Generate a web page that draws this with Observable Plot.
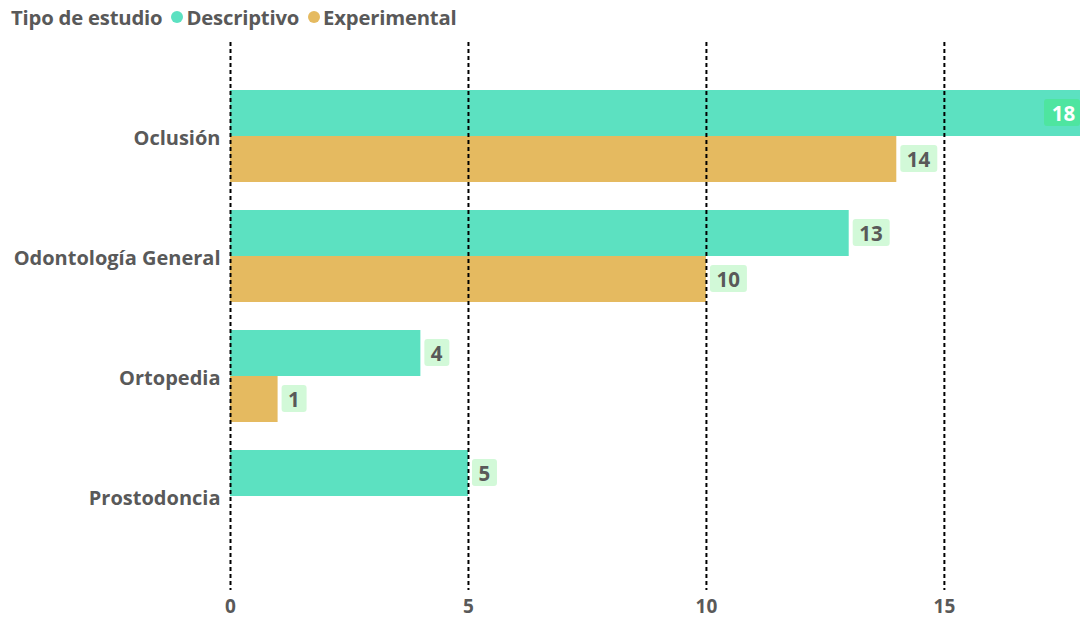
<!DOCTYPE html>
<html>
<head>
<meta charset="utf-8">
<script src="https://cdn.jsdelivr.net/npm/d3@7"></script>
<script src="https://cdn.jsdelivr.net/npm/@observablehq/plot@0.6"></script>
<style>
  html, body { margin: 0; padding: 0; background: #fff; overflow: hidden; }
  #legend { height: 34px; display: flex; align-items: center; padding-left: 11px;
    font-family: "Open Sans", sans-serif; font-weight: 700; font-size: 20.3px; color: #595959; letter-spacing: -0.2px; }
  #legend .sw { display: inline-block; width: 12px; height: 12px; border-radius: 50%; margin: 0 3px 0 9px; }
</style>
</head>
<body>
<div id="legend"></div>
<div id="chart"></div>
<script>
const legendTitle = "Tipo de estudio";
const categories = ["Oclusión", "Odontología General", "Ortopedia", "Prostodoncia"];
const seriesNames = ["Descriptivo", "Experimental"];
const seriesColors = ["#5CE1C1", "#E5BA60"];
const descriptivo = [18, 13, 4, 5];
const experimental = [14, 10, 1, null];
const xTicks = [0, 5, 10, 15];
const xMax = 17.86;

// legend
const leg = document.getElementById("legend");
leg.appendChild(document.createTextNode(legendTitle));
seriesNames.forEach((s, i) => {
  const sw = document.createElement("span");
  sw.className = "sw"; sw.style.background = seriesColors[i];
  leg.appendChild(sw);
  leg.appendChild(document.createTextNode(s));
});

const desc = categories.map((c, i) => ({cat: c, value: descriptivo[i]})).filter(d => d.value != null);
const expe = categories.map((c, i) => ({cat: c, value: experimental[i]})).filter(d => d.value != null);

const half = 46;
const font = "Open Sans, sans-serif";
const txt = "#595959";
const boxFill = "#D2F9D8";
const boxFillIn = "#4EE5A0";

function labelMarks(data, top) {
  const inT = top ? 9 : half + 9;
  const inB = top ? half + 10 : 10;
  const dy = top ? -half / 2 : half / 2;
  const outside = data.filter(d => d.value < xMax - 1);
  const inside = data.filter(d => d.value >= xMax - 1);
  const one = outside.filter(d => String(d.value).length === 1);
  const two = outside.filter(d => String(d.value).length >= 2);
  return [
    Plot.barX(one, {x1: "value", x2: "value", y: "cat", insetTop: inT, insetBottom: inB, insetLeft: 0, insetRight: -25, dx: 4, fill: boxFill, rx: 3}),
    Plot.barX(two, {x1: "value", x2: "value", y: "cat", insetTop: inT, insetBottom: inB, insetLeft: 0, insetRight: -37, dx: 4, fill: boxFill, rx: 3}),
    Plot.text(outside, {x: "value", y: "cat", text: d => String(d.value), dx: 10, dy: dy + 1, textAnchor: "start", fill: txt, fontWeight: 700, fontSize: 20.5, fontFamily: font}),
    Plot.barX(inside, {x1: () => xMax, x2: () => xMax, y: "cat", insetTop: inT, insetBottom: inB, insetLeft: -36, insetRight: 0, fill: boxFillIn, rx: 3}),
    Plot.text(inside, {x: () => xMax, y: "cat", text: d => String(d.value), dx: -17, dy: dy + 1, textAnchor: "middle", fill: "#fff", fontWeight: 700, fontSize: 20.5, fontFamily: font})
  ];
}

const chart = Plot.plot({
  width: 1080,
  height: 586,
  marginLeft: 230,
  marginRight: 0,
  marginTop: 8,
  marginBottom: 30,
  style: {fontFamily: font, background: "#fff"},
  x: {domain: [0, xMax]},
  y: {domain: categories, paddingInner: 28 / 120, paddingOuter: 0.4},
  marks: [
    Plot.barX(desc, {x: "value", y: "cat", fill: seriesColors[0], insetBottom: half, clip: true}),
    Plot.barX(expe, {x: "value", y: "cat", fill: seriesColors[1], insetTop: half, clip: true}),
    Plot.ruleX(xTicks, {stroke: "#000", strokeWidth: 2, strokeDasharray: "4,3"}),
    ...labelMarks(desc, true),
    ...labelMarks(expe, false),
    Plot.axisX(xTicks, {tickSize: 0, tickPadding: 9, label: null, fill: txt, fontWeight: 700, fontSize: 19, fontFamily: font}),
    Plot.axisY(categories, {tickSize: 0, tickPadding: 10, dy: 2, label: null, fill: txt, fontWeight: 700, fontSize: 20, fontFamily: font, letterSpacing: "-0.2px"})
  ]
});
document.getElementById("chart").appendChild(chart);
</script>
</body>
</html>
